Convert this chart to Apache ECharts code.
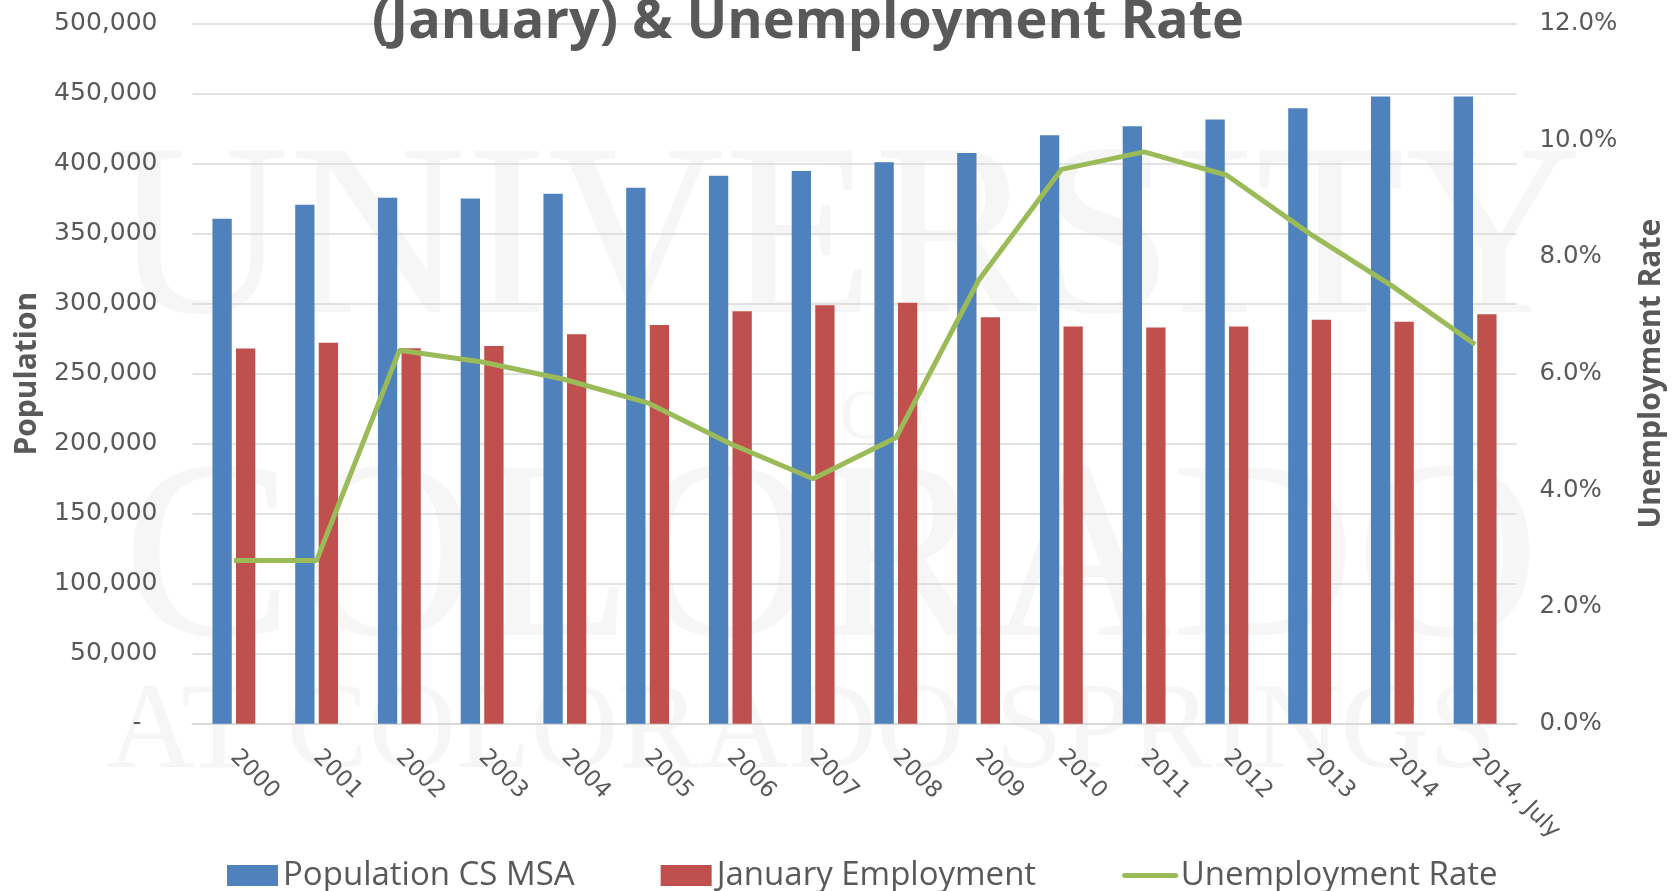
<!DOCTYPE html>
<html>
<head>
<meta charset="utf-8">
<script src="https://cdn.jsdelivr.net/npm/echarts@6/dist/echarts.min.js"></script>
<style>
html,body{margin:0;padding:0;background:#fff;}
#chart{width:1677px;height:891px;}
</style>
</head>
<body>
<div id="chart"></div>
<script>
const categories = ['2000','2001','2002','2003','2004','2005','2006','2007','2008','2009','2010','2011','2012','2013','2014','2014, July'];
const population = [360600, 370600, 375600, 375100, 378500, 382800, 391300, 394600, 400900, 407500, 420200, 426600, 431400, 439500, 447800, 447800];
const employment = [267900, 272000, 268100, 269800, 278100, 284800, 294600, 298900, 300600, 290300, 283600, 282900, 283600, 288400, 287000, 292400];
const unemployment = [2.8, 2.8, 6.4, 6.2, 5.9, 5.5, 4.8, 4.2, 4.9, 7.6, 9.5, 9.8, 9.4, 8.4, 7.5, 6.5];
const seriesNames = ['Population CS MSA', 'January Employment', 'Unemployment Rate'];
const titleText = '(January) & Unemployment Rate';

const chart = echarts.init(document.getElementById('chart'), null, {renderer: 'canvas'});
const txt = '#595959';
const wm = '#f6f6f6';
const option = {
  backgroundColor: '#fff',
  animation: false,
  title: {
    text: titleText,
    left: 372,
    top: -4,
    padding: 0,
    textStyle: {fontFamily: 'Open Sans', fontWeight: 'bold', fontSize: 54, color: txt}
  },
  graphic: [
    {type: 'text', z: -10, silent: true, x: 112, y: 248, style: {text: 'UNIVERSITY', font: '245px "Liberation Serif"', fill: wm, verticalAlign: 'middle', align: 'left'}},
    {type: 'text', z: -10, silent: true, x: 840, y: 420, style: {text: 'OF', font: '70px "Liberation Serif"', fill: wm, verticalAlign: 'middle', align: 'left'}},
    {type: 'text', z: -10, silent: true, x: 123, y: 568, style: {text: 'COLORADO', font: '255px "Liberation Serif"', fill: wm, verticalAlign: 'middle', align: 'left'}},
    {type: 'text', z: -10, silent: true, x: 107, y: 735, style: {text: 'AT COLORADO SPRINGS', font: '122px "Liberation Serif"', fill: wm, verticalAlign: 'middle', align: 'left'}}
  ],
  grid: {left: 192.5, right: 160.5, top: 23.5, bottom: 167.2, containLabel: false},
  legend: {
    left: 222,
    top: 854,
    itemWidth: 51,
    itemHeight: 21,
    itemGap: 86,
    textStyle: {fontFamily: 'Open Sans', fontSize: 33, color: txt},
    data: [
      {name: seriesNames[0], icon: 'rect'},
      {name: seriesNames[1], icon: 'rect'},
      {name: seriesNames[2], itemStyle: {opacity: 0, color: 'rgba(0,0,0,0)', borderWidth: 0}, lineStyle: {width: 5, color: '#9BBB59', cap: 'round'}}
    ]
  },
  xAxis: {
    type: 'category',
    data: categories,
    boundaryGap: true,
    axisTick: {show: false},
    axisLine: {lineStyle: {color: '#d9d9d9', width: 2}},
    axisLabel: {rotate: -45, interval: 0, margin: 30, color: txt, fontFamily: 'DejaVu Sans', fontSize: 23}
  },
  yAxis: [
    {
      type: 'value', min: 0, max: 500000, interval: 50000,
      name: 'Population', nameLocation: 'middle', nameRotate: 90, nameGap: 150,
      nameTextStyle: {fontFamily: 'Open Sans', fontWeight: 'bold', fontSize: 30, color: txt},
      axisLine: {show: false}, axisTick: {show: false},
      splitLine: {lineStyle: {color: '#d9d9d9', width: 1.5}},
      axisLabel: {margin: 35, color: txt, fontFamily: 'DejaVu Sans', fontSize: 25,
        formatter: v => v === 0 ? '-  ' : v.toLocaleString('en-US')}
    },
    {
      type: 'value', min: 0, max: 12, interval: 2,
      name: 'Unemployment Rate', nameLocation: 'middle', nameRotate: 90, nameGap: 120,
      nameTextStyle: {fontFamily: 'Open Sans', fontWeight: 'bold', fontSize: 30, color: txt},
      axisLine: {show: false}, axisTick: {show: false},
      splitLine: {show: false},
      axisLabel: {margin: 23, color: txt, fontFamily: 'DejaVu Sans', fontSize: 24.5,
        formatter: v => v.toFixed(1) + '%'}
    }
  ],
  series: [
    {name: seriesNames[0], type: 'bar', data: population, barWidth: 19.3, barGap: '22%', itemStyle: {color: '#4F81BD'}},
    {name: seriesNames[1], type: 'bar', data: employment, barWidth: 19.3, barGap: '22%', itemStyle: {color: '#C0504D'}},
    {name: seriesNames[2], type: 'line', yAxisIndex: 1, data: unemployment, symbol: 'none', lineStyle: {color: '#9BBB59', width: 5}, itemStyle: {color: '#9BBB59'}}
  ]
};
chart.setOption(option);
</script>
</body>
</html>
